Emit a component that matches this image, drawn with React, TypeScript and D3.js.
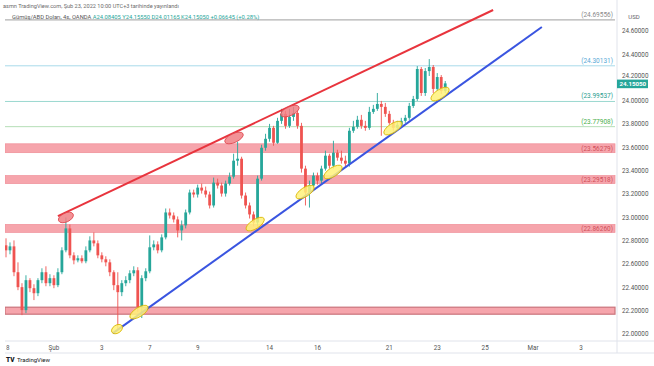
import * as d3 from 'd3';
import { useEffect } from 'react';

// 4h candles, index 0 = first candle of Jan 28, six candles per trading day
const opens = [22.761, 22.718, 22.752, 22.53, 22.402, 22.205, 22.462, 22.393, 22.35, 22.462, 22.53, 22.436, 22.479, 22.419, 22.53, 22.718, 22.906, 22.675, 22.632, 22.65, 22.624, 22.718, 22.803, 22.778, 22.675, 22.641, 22.615, 22.53, 22.419, 22.359, 22.436, 22.462, 22.521, 22.547, 22.231, 22.479, 22.538, 22.744, 22.769, 22.718, 22.829, 23.043, 23.017, 22.983, 22.889, 22.932, 23.043, 23.214, 23.197, 23.256, 23.231, 23.197, 23.103, 23.299, 23.274, 23.205, 23.291, 23.35, 23.487, 23.504, 23.188, 23.103, 23.026, 22.957, 23.333, 23.598, 23.675, 23.769, 23.641, 23.829, 23.889, 23.786, 23.863, 23.897, 23.786, 23.419, 23.214, 23.274, 23.359, 23.316, 23.419, 23.53, 23.444, 23.556, 23.513, 23.487, 23.462, 23.744, 23.778, 23.838, 23.786, 23.769, 23.906, 23.932, 23.974, 23.949, 23.889, 23.812, 23.769, 23.795, 23.829, 23.855, 23.957, 24.017, 24.274, 24.068, 24.256, 24.291, 24.103, 24.205, 24.085];
const highs = [22.821, 22.786, 22.803, 22.615, 22.436, 22.504, 22.479, 22.427, 22.479, 22.564, 22.581, 22.513, 22.504, 22.564, 22.744, 23.0, 22.94, 22.701, 22.675, 22.675, 22.752, 22.838, 22.872, 22.803, 22.701, 22.667, 22.641, 22.547, 22.53, 22.462, 22.496, 22.547, 22.581, 22.573, 22.504, 22.564, 22.846, 22.803, 22.795, 22.855, 23.077, 23.077, 23.043, 23.009, 22.974, 23.068, 23.239, 23.239, 23.282, 23.291, 23.265, 23.222, 23.342, 23.333, 23.299, 23.316, 23.385, 23.547, 23.65, 23.521, 23.214, 23.128, 23.051, 23.359, 23.624, 23.718, 23.803, 23.786, 23.855, 23.932, 23.915, 23.932, 23.949, 23.915, 23.812, 23.444, 23.316, 23.385, 23.385, 23.444, 23.573, 23.547, 23.658, 23.581, 23.573, 23.53, 23.769, 23.829, 23.872, 23.88, 23.829, 23.949, 23.966, 24.068, 24.0, 23.983, 23.915, 23.838, 23.829, 23.855, 23.88, 23.983, 24.043, 24.299, 24.291, 24.282, 24.359, 24.308, 24.239, 24.222, 24.171];
const lows = [22.658, 22.684, 22.496, 22.376, 22.162, 22.179, 22.359, 22.291, 22.325, 22.436, 22.41, 22.41, 22.393, 22.402, 22.513, 22.701, 22.65, 22.598, 22.615, 22.607, 22.607, 22.701, 22.752, 22.65, 22.615, 22.581, 22.496, 22.376, 22.034, 22.325, 22.41, 22.436, 22.496, 22.188, 22.137, 22.453, 22.521, 22.718, 22.692, 22.701, 22.812, 22.991, 22.957, 22.829, 22.803, 22.906, 23.026, 23.171, 23.171, 23.205, 23.171, 23.077, 23.085, 23.248, 23.179, 23.179, 23.274, 23.333, 23.444, 23.162, 23.077, 22.991, 22.923, 22.923, 23.316, 23.573, 23.65, 23.615, 23.632, 23.803, 23.761, 23.769, 23.829, 23.761, 23.385, 23.103, 23.085, 23.231, 23.282, 23.291, 23.402, 23.419, 23.419, 23.487, 23.462, 23.427, 23.436, 23.726, 23.761, 23.761, 23.744, 23.752, 23.889, 23.915, 23.701, 23.863, 23.795, 23.744, 23.752, 23.778, 23.812, 23.838, 23.94, 24.0, 24.043, 24.043, 24.214, 24.068, 24.085, 24.06, 24.068];
const closes = [22.718, 22.752, 22.53, 22.402, 22.205, 22.462, 22.393, 22.35, 22.462, 22.53, 22.436, 22.479, 22.419, 22.53, 22.718, 22.906, 22.675, 22.632, 22.65, 22.624, 22.718, 22.803, 22.778, 22.675, 22.641, 22.615, 22.53, 22.419, 22.359, 22.436, 22.462, 22.521, 22.547, 22.231, 22.479, 22.538, 22.744, 22.769, 22.718, 22.829, 23.043, 23.017, 22.983, 22.889, 22.932, 23.043, 23.214, 23.197, 23.256, 23.231, 23.197, 23.103, 23.299, 23.274, 23.205, 23.291, 23.35, 23.487, 23.504, 23.188, 23.103, 23.026, 22.957, 23.333, 23.598, 23.675, 23.769, 23.641, 23.829, 23.889, 23.786, 23.863, 23.897, 23.786, 23.419, 23.214, 23.274, 23.359, 23.316, 23.419, 23.53, 23.444, 23.556, 23.513, 23.487, 23.462, 23.744, 23.778, 23.838, 23.786, 23.769, 23.906, 23.932, 23.974, 23.949, 23.889, 23.812, 23.769, 23.795, 23.829, 23.855, 23.957, 24.017, 24.274, 24.068, 24.256, 24.291, 24.103, 24.205, 24.085, 24.1505];

const dayTicks = [0, 2, 4, 6, 8, 11, 13, 16, 18, 20, 22, 24];
const dayLabels = ['28', 'Şub', '3', '7', '9', '14', '16', '21', '23', '25', 'Mar', '3'];
const priceTicks = [22.0, 22.2, 22.4, 22.6, 22.8, 23.0, 23.2, 23.4, 23.6, 23.8, 24.0, 24.2, 24.4, 24.6];

const levelValues = [24.69556, 24.30131, 23.99537, 23.77908];
const levelLabels = ['(24.69556)', '(24.30131)', '(23.99537)', '(23.77908)'];
const levelLineColors = ['#b2b2b2', '#a9dbea', '#9ad8cf', '#b5deb6'];
const levelTextColors = ['#8a8a8a', '#5aa9d6', '#2a9d8f', '#4caf50'];

const zoneLows = [23.556, 23.291, 22.872, 22.17];
const zoneHighs = [23.632, 23.359, 22.94, 22.23];
const zoneLabels = ['(23.56279)', '(23.29518)', '(22.86260)', ''];

const redTrend = [[13.0, 23.012], [122.0, 24.78]];
const blueTrend = [[26.8, 22.008], [134.2, 24.634]];
const redMarks = [[15.0, 23.0], [57.1, 23.682], [71.1, 23.913]];
const yellowMarks = [[27.8, 22.042], [33.3, 22.188], [62.4, 22.943], [74.9, 23.218], [81.9, 23.39], [96.9, 23.767], [108.7, 24.059]];

const W = 654;
const H = 366;
const left = 5;
const right = 617;
const bottom = 341;
const font = 'Roboto, "Liberation Sans", sans-serif';

export default function App() {
  useEffect(() => {
    document.body.style.margin = '0';
  }, []);

  const x = d3.scaleLinear().domain([0, 144]).range([6, 6 + 144 * 3.993]);
  const y = d3.scaleLinear().domain([22, 24.6]).range([334, 31]);
  const line = d3.line<number[]>().x((d) => x(d[0])).y((d) => y(d[1]));
  const last = closes[closes.length - 1];

  return (
    <svg width={W} height={H} style={{ display: 'block', background: '#fff' }} fontFamily={font}>
      <defs>
        <clipPath id="plot">
          <rect x={left} y={0} width={right - left} height={bottom} />
        </clipPath>
        <clipPath id="timeaxis">
          <rect x={6.2} y={bottom} width={right - 6.2} height={14} />
        </clipPath>
      </defs>

      <g clipPath="url(#plot)">
        {zoneLows.map((lo, i) => (
          <g key={'z' + i}>
            <rect x={left} width={right - left - 2} y={y(zoneHighs[i])} height={y(lo) - y(zoneHighs[i])}
              fill="#f6a5ac" stroke={i === 3 ? '#c9737b' : '#ef8e97'} strokeWidth={i === 3 ? 1.2 : 0.7} />
            {zoneLabels[i] && (
              <text x={613} y={(y(lo) + y(zoneHighs[i])) / 2} dy="0.35em" textAnchor="end" fontSize={6.5} fill="#d0505a">
                {zoneLabels[i]}
              </text>
            )}
          </g>
        ))}
        {levelValues.map((v, i) => (
          <g key={'l' + i}>
            <line x1={left} x2={right - 2} y1={y(v)} y2={y(v)} stroke={levelLineColors[i]} strokeWidth={i === 0 ? 1.2 : 1} />
            <text x={613} y={y(v) - 3} textAnchor="end" fontSize={6.5} fill={levelTextColors[i]}>
              {levelLabels[i]}
            </text>
          </g>
        ))}

        {closes.map((c, i) => {
          const o = opens[i];
          const up = c >= o;
          const col = up ? '#26a69a' : '#ef5350';
          const top = y(Math.max(o, c));
          const h = Math.max(1, y(Math.min(o, c)) - top);
          return (
            <g key={'c' + i}>
              <line x1={x(i)} x2={x(i)} y1={y(highs[i])} y2={y(lows[i])} stroke={col} strokeWidth={0.9} />
              <rect x={x(i) - 1.4} width={2.8} y={top} height={h} fill={col} />
            </g>
          );
        })}

        <path d={line(redTrend) ?? ''} stroke="#e8343d" strokeWidth={2} fill="none" />
        <path d={line(blueTrend) ?? ''} stroke="#3a55e0" strokeWidth={2} fill="none" />

        {redMarks.map((d, i) => (
          <ellipse key={'r' + i} cx={x(d[0])} cy={y(d[1])} rx={i === 0 ? 8 : 10} ry={4.5}
            transform={`rotate(-25 ${x(d[0])} ${y(d[1])})`} fill="#f07f84" fillOpacity={0.85} stroke="#e0454c" strokeWidth={0.8} />
        ))}
        {yellowMarks.map((d, i) => (
          <ellipse key={'y' + i} cx={x(d[0])} cy={y(d[1])} rx={i === 0 ? 6 : 10.5} ry={i === 0 ? 4 : 4.5}
            transform={`rotate(-33 ${x(d[0])} ${y(d[1])})`} fill="#fff27a" fillOpacity={0.85} stroke="#d9b600" strokeWidth={0.8} />
        ))}
      </g>

      {/* header */}
      <text x={3} y={8} fontSize={5.6} fill="#6b6b6b">asmn TradingView.com, Şub 23, 2022 10:00 UTC+3 tarihinde yayınlandı</text>
      <text x={12} y={18.5} fontSize={5.8} fill="#555">
        Gümüş/ABD Doları, 4s, OANDA
        <tspan fill="#26a69a"> A24.08405  Y24.15550  D24.01165  K24.15050  +0.06645 (+0.28%)</tspan>
      </text>

      {/* axes frame */}
      <line x1={right} x2={right} y1={0} y2={353} stroke="#e0e3eb" />
      <line x1={left} x2={W} y1={bottom} y2={bottom} stroke="#e0e3eb" />
      <line x1={left} x2={W} y1={353} y2={353} stroke="#e0e3eb" />

      <text x={634} y={19} textAnchor="middle" fontSize={6} fill="#666">USD</text>
      {priceTicks.map((p) => (
        <text key={p} x={622} y={p === 24.2 ? y(p) - 1.5 : y(p)} dy="0.35em" fontSize={6.3} fill="#555">
          {p.toFixed(5)}
        </text>
      ))}
      <rect x={right} y={y(last) - 3.8} width={31} height={8.6} fill="#26a69a" />
      <text x={619.5} y={y(last) + 0.5} dy="0.35em" fontSize={6.2} fontWeight="bold" fill="#fff">
        {last.toFixed(5)}
      </text>

      <g clipPath="url(#timeaxis)">
        {dayTicks.map((d, i) => (
          <text key={'t' + i} x={x(d * 6)} y={349.5} textAnchor="middle" fontSize={6.3} fill="#555">
            {dayLabels[i]}
          </text>
        ))}
      </g>

      {/* logo */}
      <text x={6} y={361.5} fontSize={6.5} fontWeight={900} fill="#131722">TV</text>
      <text x={17} y={361.5} fontSize={6} fill="#131722">TradingView</text>
    </svg>
  );
}
